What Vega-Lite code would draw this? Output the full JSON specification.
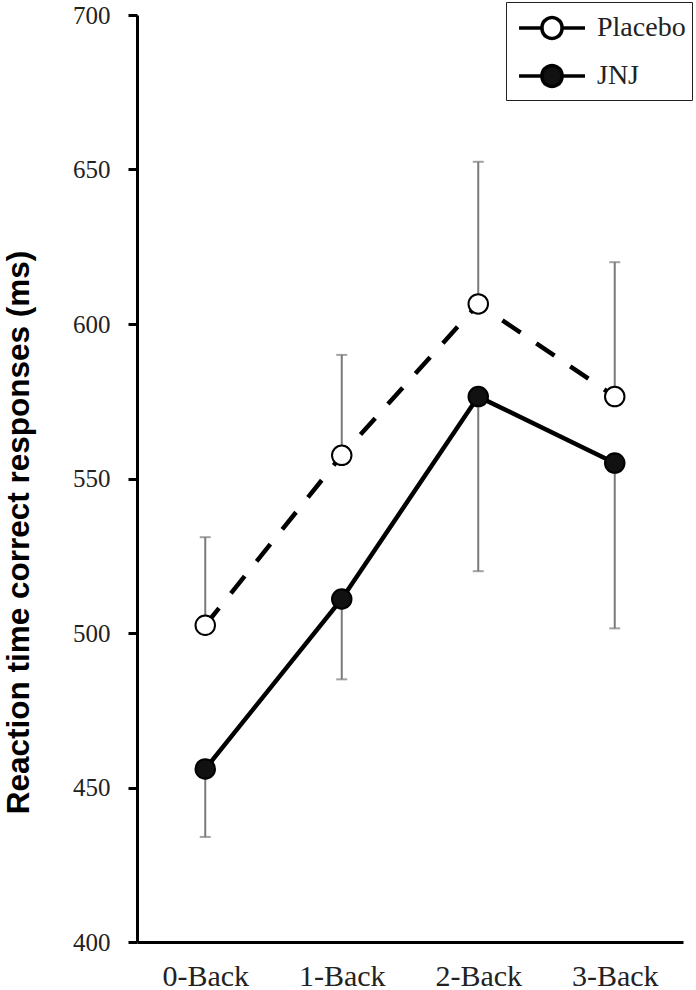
{
  "$schema": "https://vega.github.io/schema/vega-lite/v6.json",
  "width": 546,
  "height": 927,
  "autosize": "none",
  "padding": {"left": 137, "top": 15, "right": 13, "bottom": 48},
  "background": "white",
  "config": {"view": {"stroke": null}},
  "data": {
    "values": [
      {"task": "0-Back", "group": "Placebo", "rt": 502.5, "bar": 531},
      {"task": "1-Back", "group": "Placebo", "rt": 557.5, "bar": 590},
      {"task": "2-Back", "group": "Placebo", "rt": 606.5, "bar": 652.5},
      {"task": "3-Back", "group": "Placebo", "rt": 576.5, "bar": 620},
      {"task": "0-Back", "group": "JNJ", "rt": 456, "bar": 434},
      {"task": "1-Back", "group": "JNJ", "rt": 511, "bar": 485},
      {"task": "2-Back", "group": "JNJ", "rt": 576.5, "bar": 520},
      {"task": "3-Back", "group": "JNJ", "rt": 555, "bar": 501.5}
    ]
  },
  "encoding": {
    "x": {
      "field": "task",
      "type": "nominal",
      "sort": ["0-Back", "1-Back", "2-Back", "3-Back"],
      "scale": {"type": "point", "padding": 0.5},
      "axis": {
        "title": null,
        "labelAngle": 0,
        "labelFont": "Liberation Serif",
        "labelFontSize": 30,
        "labelColor": "#222",
        "labelPadding": 19,
        "ticks": false,
        "domainColor": "black",
        "domainWidth": 3
      }
    },
    "y": {
      "field": "rt",
      "type": "quantitative",
      "scale": {"domain": [400, 700], "nice": false, "zero": false},
      "axis": {
        "title": "Reaction time correct responses (ms)",
        "titleFont": "Liberation Sans",
        "titleFontWeight": "bold",
        "titleFontSize": 31.5,
        "titleColor": "black",
        "titleY": 517,
        "titlePadding": 37,
        "values": [400, 450, 500, 550, 600, 650, 700],
        "labelFont": "Liberation Serif",
        "labelFontSize": 25,
        "labelColor": "#222",
        "labelPadding": 18,
        "tickSize": 9,
        "tickWidth": 3,
        "tickColor": "black",
        "domainColor": "black",
        "domainWidth": 3,
        "grid": false
      }
    }
  },
  "layer": [
    {
      "mark": {"type": "rule", "color": "#7a7a7a", "strokeWidth": 2},
      "encoding": {
        "y2": {"field": "bar"},
        "detail": {"field": "group"}
      }
    },
    {
      "mark": {"type": "tick", "color": "#7a7a7a", "thickness": 2, "size": 11, "orient": "horizontal"},
      "encoding": {
        "y": {"field": "bar", "type": "quantitative"},
        "detail": {"field": "group"}
      }
    },
    {
      "transform": [{"filter": "datum.group === 'Placebo'"}],
      "mark": {"type": "line", "color": "black", "strokeWidth": 4.5, "strokeDash": [22, 19]},
      "encoding": {}
    },
    {
      "transform": [{"filter": "datum.group === 'JNJ'"}],
      "mark": {"type": "line", "color": "black", "strokeWidth": 4.5},
      "encoding": {}
    },
    {
      "mark": {"type": "point", "shape": "circle", "size": 380, "stroke": "black", "strokeWidth": 2, "filled": true, "opacity": 1},
      "encoding": {
        "fill": {
          "field": "group",
          "type": "nominal",
          "scale": {"domain": ["Placebo", "JNJ"], "range": ["white", "#111"]},
          "legend": {
            "title": null,
            "orient": "none",
            "legendX": 369,
            "legendY": -13,
            "symbolType": "M-0.72,0H0.556M1.667,0H2.944M1.667,0A0.556,0.556 0 1 1 0.556,0A0.556,0.556 0 1 1 1.667,0",
            "symbolSize": 1296,
            "symbolStrokeColor": "black",
            "symbolStrokeWidth": 3.5,
            "symbolOpacity": 1,
            "labelFont": "Liberation Serif",
            "labelFontSize": 28,
            "labelColor": "#222",
            "labelOffset": 45,
            "rowPadding": 10,
            "padding": 6,
            "strokeColor": "#222",
            "fillColor": "white"
          }
        }
      }
    }
  ]
}
